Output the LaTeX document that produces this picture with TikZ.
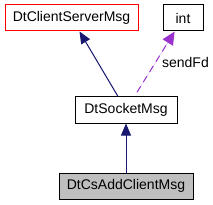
\documentclass[tikz,border=0pt]{standalone}
\usepackage{fontspec}
\setmainfont{Liberation Sans}
\usetikzlibrary{arrows.meta}

\definecolor{inheritblue}{HTML}{191970}
\definecolor{usepurple}{HTML}{9A32CD}

\tikzset{
    class/.style={draw=black, line width=1pt, fill=white, minimum height=26pt, inner sep=0pt, font=\fontsize{14}{16}\selectfont},
    inherit/.style={-{Triangle[length=12pt, width=10pt]}, line width=1pt, draw=inheritblue, fill=inheritblue},
    uses/.style={-{Triangle[length=13pt, width=12pt]}, line width=1pt, draw=usepurple, fill=usepurple, dash pattern=on 7pt off 5pt},
}

\begin{document}
\begin{tikzpicture}[x=1pt, y=-1pt]
    \useasboundingbox (0,0) rectangle (213,205);

    % classes
    \node[class, draw=red, minimum width=133pt] (base) at (71.5,18) {DtClientServerMsg};
    \node[class, minimum width=40pt] (int) at (183,18) {int};
    \node[class, minimum width=102pt] (socket) at (126,110) {DtSocketMsg};
    \node[class, fill=black!25, minimum width=134pt] (child) at (126,186) {DtCsAddClientMsg};

    % inheritance
    \draw[inherit] (socket) -- (base);
    \draw[inherit] (child) -- (socket);

    % member usage
    \draw[uses, shorten <=5pt] (socket) -- (int) node[pos=0.52, right=3pt, text=black, font=\fontsize{14}{16}\selectfont] (sendfd) {sendFd};

\end{tikzpicture}
\end{document}
